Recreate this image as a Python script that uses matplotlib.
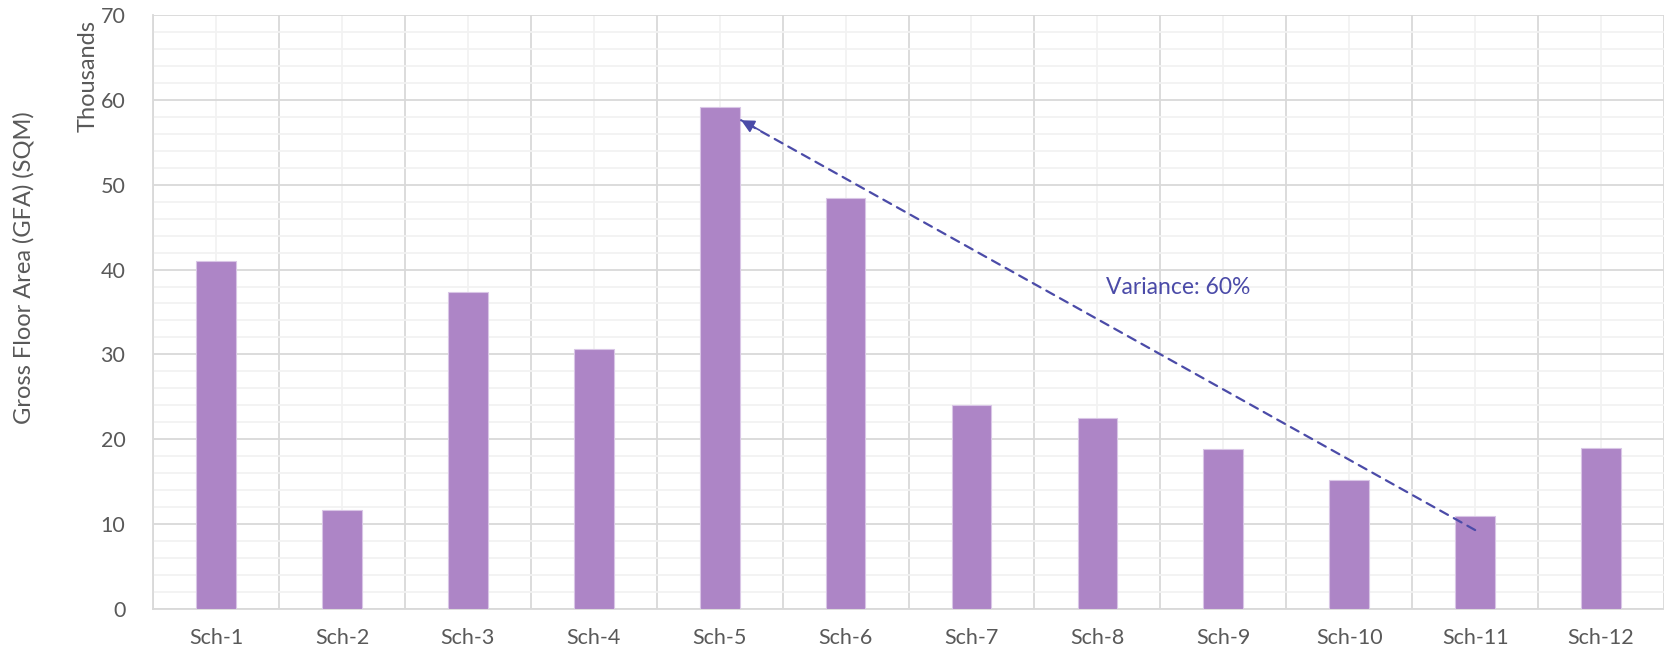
import matplotlib
matplotlib.use("Agg")
import matplotlib.pyplot as plt
import numpy as np

# Data (GFA in thousands of SQM)
schemes = ["Sch-1", "Sch-2", "Sch-3", "Sch-4", "Sch-5", "Sch-6",
           "Sch-7", "Sch-8", "Sch-9", "Sch-10", "Sch-11", "Sch-12"]
gfa_thousands = [41.0, 11.7, 37.3, 30.6, 59.2, 48.4, 24.0, 22.5, 18.8, 15.2, 11.0, 19.0]

# Annotation: from Sch-11 back up to Sch-5
arrow_from = (10.0, 9.3)
arrow_to = (4.17, 57.6)
variance_label = "Variance: 60%"
variance_pos = (7.07, 37.9)

plt.rcParams['font.family'] = ['Lato', 'DejaVu Sans']

bar_color = '#AD85C6'
note_color = '#4B4BA8'
text_color = '#595959'

fig = plt.figure(figsize=(16.64, 6.52), dpi=100)
ax = fig.add_axes([0.092, 0.066, 0.908, 0.911])

x = np.arange(len(schemes))
ax.bar(x, gfa_thousands, width=0.315, color=bar_color, edgecolor='#D9C6E6',
       linewidth=0.8, zorder=3)

ax.set_xlim(-0.5, len(schemes) - 0.5)
ax.set_ylim(0, 70)

# gridlines: major at 10s, minor at 2s; vertical at category edges and centres
ax.set_yticks(np.arange(0, 71, 10))
ax.set_yticks(np.arange(0, 71, 2), minor=True)
ax.set_xticks(x)
ax.set_xticklabels(schemes)
ax.set_xticks(np.arange(-0.5, len(schemes)), minor=True)

ax.grid(axis='y', which='major', color='#D9D9D9', linewidth=1.3, zorder=1)
ax.grid(axis='y', which='minor', color='#F2F2F2', linewidth=1.3, zorder=0)
ax.grid(axis='x', which='minor', color='#D9D9D9', linewidth=1.3, zorder=1)
ax.grid(axis='x', which='major', color='#F2F2F2', linewidth=1.3, zorder=0)

ax.tick_params(which='both', length=0)
ax.tick_params(axis='y', labelsize=15.5, labelcolor=text_color, pad=20)
ax.tick_params(axis='x', labelsize=15.5, labelcolor=text_color, pad=14)

for side in ['top', 'right']:
    ax.spines[side].set_visible(False)
for side in ['left', 'bottom']:
    ax.spines[side].set_color('#D9D9D9')
    ax.spines[side].set_linewidth(1.3)

fig.text(0.014, 0.589, "Gross Floor Area (GFA) (SQM)", rotation=90,
         va='center', ha='center', fontsize=17, color=text_color)
fig.text(0.053, 0.883, "Thousands", rotation=90,
         va='center', ha='center', fontsize=17, color=text_color)

# dashed shaft, then a solid filled head
ax.annotate("", xy=arrow_to, xytext=arrow_from,
            arrowprops=dict(arrowstyle='-', color=note_color, linestyle=(0, (4, 3)),
                            linewidth=1.6, shrinkA=0, shrinkB=0),
            zorder=5)
head_start = (arrow_to[0] + 0.15, arrow_to[1] - 1.2)
ax.annotate("", xy=arrow_to, xytext=head_start,
            arrowprops=dict(arrowstyle='-|>', color=note_color, linewidth=1.2,
                            mutation_scale=20, shrinkA=0, shrinkB=0),
            zorder=5)
ax.text(variance_pos[0], variance_pos[1], variance_label, color=note_color,
        fontsize=16.5, ha='left', va='center', zorder=5)

fig.savefig("out.png", dpi=100)
